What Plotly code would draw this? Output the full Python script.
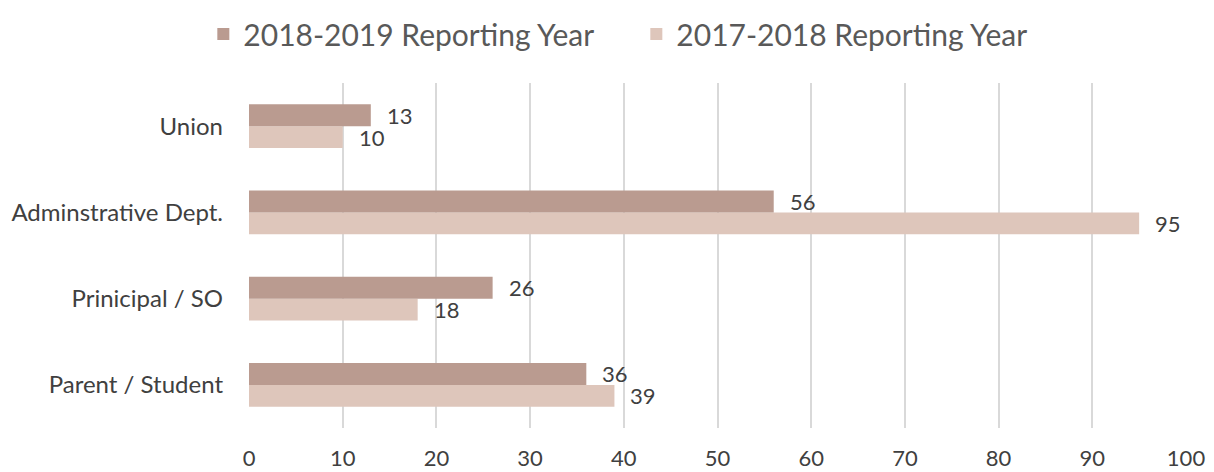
import plotly.graph_objects as go

categories = ["Parent / Student", "Prinicipal / SO", "Adminstrative Dept.", "Union"]
values_2018_2019 = [36, 26, 56, 13]
values_2017_2018 = [39, 18, 95, 10]
series_names = ["2018-2019 Reporting Year", "2017-2018 Reporting Year"]
x_ticks = [0, 10, 20, 30, 40, 50, 60, 70, 80, 90, 100]

dark = "#BA9B90"
light = "#DEC6BB"
text_col = "#595959"
font_family = "Lato, 'Open Sans', sans-serif"

fig = go.Figure()
fig.add_trace(go.Bar(y=categories, x=values_2017_2018, orientation="h", name=series_names[1],
                     marker=dict(color=light, line=dict(width=0)), legendrank=2))
fig.add_trace(go.Bar(y=categories, x=values_2018_2019, orientation="h", name=series_names[0],
                     marker=dict(color=dark, line=dict(width=0)), legendrank=1))

annotations = []
for cat, v in zip(categories, values_2018_2019):
    annotations.append(dict(x=v, y=cat, xref="x", yref="y", text=str(v), showarrow=False,
                            xanchor="left", yanchor="middle", xshift=14, yshift=11,
                            font=dict(size=22, color="#404040", family=font_family)))
for cat, v in zip(categories, values_2017_2018):
    annotations.append(dict(x=v, y=cat, xref="x", yref="y", text=str(v), showarrow=False,
                            xanchor="left", yanchor="middle", xshift=14, yshift=-11,
                            font=dict(size=22, color="#404040", family=font_family)))

# page body has an 8px margin, so the figure is drawn 8px smaller
fig.update_layout(
    width=1206, height=464,
    margin=dict(l=241, r=28, t=75, b=44),
    paper_bgcolor="white", plot_bgcolor="white",
    barmode="group", bargap=0.49, bargroupgap=0,
    font=dict(family=font_family, color=text_col),
    showlegend=True,
    legend=dict(orientation="h", xref="container", yref="container", x=0.521, y=1.0,
                xanchor="center", yanchor="top", font=dict(size=30, color=text_col),
                itemwidth=30, traceorder="normal", entrywidth=388, entrywidthmode="pixels"),
    annotations=annotations,
)
fig.update_xaxes(range=[0, 100], tickvals=x_ticks, showgrid=True, gridcolor="#D9D9D9", gridwidth=1.5,
                 zeroline=False, showline=False, tickfont=dict(size=22, color="#404040"),
                 ticklabelstandoff=15, automargin=False, fixedrange=True)
fig.update_yaxes(categoryorder="array", categoryarray=categories, showgrid=False, zeroline=False,
                 showline=False, tickfont=dict(size=24, color="#404040"), ticklabelstandoff=25,
                 automargin=False)

fig.write_html("out.html")
